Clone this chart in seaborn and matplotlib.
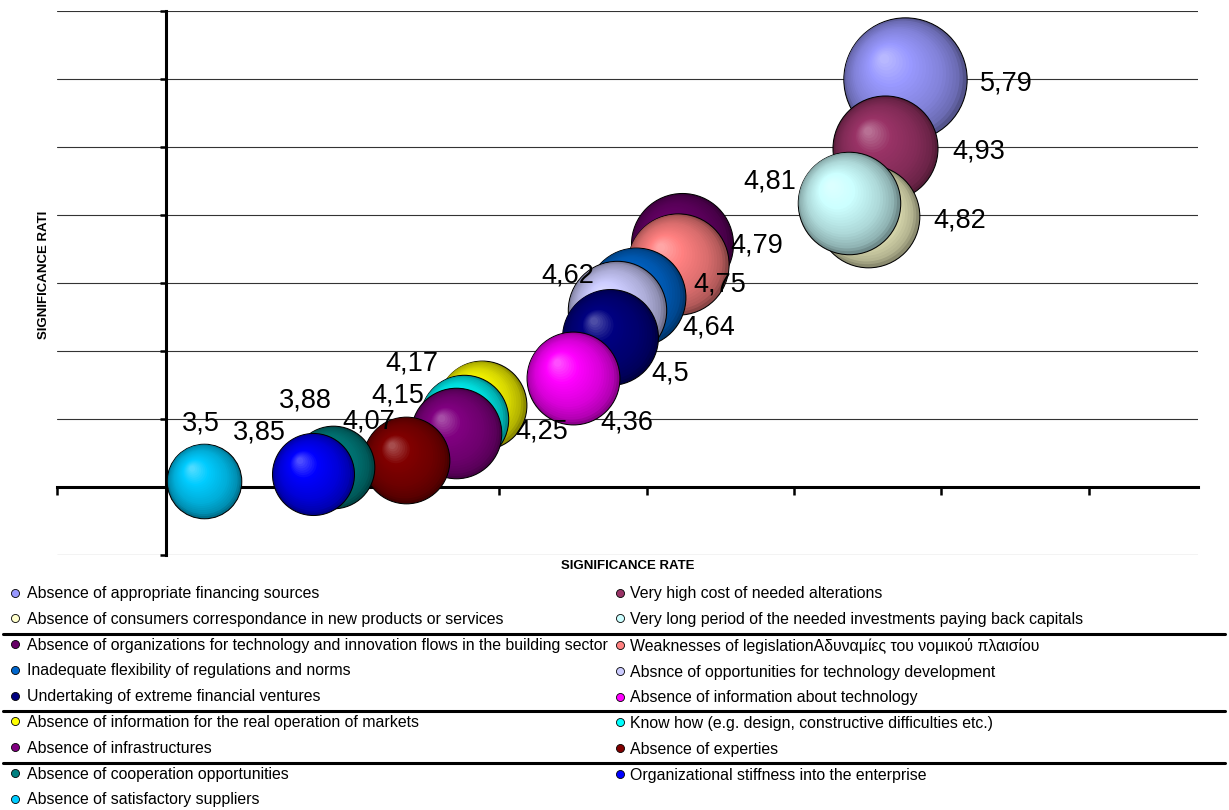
import numpy as np
import pandas as pd
import seaborn as sns
import matplotlib.pyplot as plt
from matplotlib.lines import Line2D
from matplotlib.colors import to_rgb

# Barriers and their significance rate (legend order = drawing order)
factors = [
    "Absence of appropriate financing sources",
    "Very high cost of needed alterations",
    "Absence of consumers correspondance in new products or services",
    "Very long period of the needed investments paying back capitals",
    "Absence of organizations for technology and innovation flows in the building sector",
    "Weaknesses of legislationΑδυναμίες του νομικού πλαισίου",
    "Inadequate flexibility of regulations and norms",
    "Absnce of opportunities for technology development",
    "Undertaking of extreme financial ventures",
    "Absence of information about technology",
    "Absence of information for the real operation of markets",
    "Know how (e.g. design, constructive difficulties etc.)",
    "Absence of infrastructures",
    "Absence of experties",
    "Absence of cooperation opportunities",
    "Organizational stiffness into the enterprise",
    "Absence of satisfactory suppliers",
]
rates = [5.79, 4.93, 4.82, 4.81, 4.79, 4.75, 4.64, 4.62, 4.5, 4.36,
         4.17, 4.15, 4.25, 4.07, 3.88, 3.85, 3.5]
x_vals = [5.75, 5.62, 5.5, 5.37, 4.24, 4.21, 3.93, 3.8, 3.75, 3.5,
          2.88, 2.76, 2.71, 2.37, 1.87, 1.74, 1.0]
y_vals = [6.0, 4.98, 3.99, 4.18, 3.57, 3.28, 2.8, 2.6, 2.21, 1.6,
          1.21, 1.0, 0.79, 0.4, 0.29, 0.19, 0.09]

colors = ["#9999FF", "#993366", "#FFFFCC", "#CCFFFF", "#660066", "#FF8080",
          "#0066CC", "#CCCCFF", "#000080", "#FF00FF", "#FFFF00", "#00FFFF",
          "#800080", "#800000", "#008080", "#0000FF", "#00CCFF"]

# where each value label sits relative to its bubble (pixels, right / down)
label_offsets = [(75, 11), (67, 10.5), (66, 11.7), (-105, -14), (48.7, 8.7),
                 (16, 28), (46, 37.7), (-76, -28), (42, 44), (27.5, 51.5),
                 (-96, -34), (-92, -16), (59, 5), (-64, -31), (-54, -60),
                 (-81, -35), (-22, -50)]

sns.set_style("white")
plt.rcParams["font.family"] = ["Liberation Sans", "DejaVu Sans"]
plt.rcParams["text.color"] = "black"
plt.rcParams["axes.labelcolor"] = "black"

W, H = 1229, 810
PT = 0.72            # points per pixel at 100 dpi
SX, SY = 147.4, 68   # pixels per data unit
R_UNIT = 10.65       # bubble radius (px) per unit of rate

fig = plt.figure(figsize=(W / 100, H / 100), dpi=100)
ax = fig.add_axes([57 / W, 1 - 555 / H, (1198 - 57) / W, (555 - 11) / H])

# 3D-looking bubbles: outline circle + nested lighter circles toward upper left
N = 24
t = np.linspace(0, 1, N)
f = np.interp(t, [0, 0.08, 0.3, 0.7, 1], [0.55, 0.7, 0.85, 1.0, 1.0])
g = np.interp(t, [0, 0.7, 1], [0, 0, 0.3])

for v, x, y, col in zip(rates, x_vals, y_vals, colors):
    c = np.array(to_rgb(col))
    r = R_UNIT * v
    ri = r * (1 - 0.92 * t)
    off = (r - ri) * 0.5 / np.sqrt(2)
    shades = {k: tuple(np.clip(c * f[k] + (1 - c) * g[k], 0, 1)) for k in range(N)}
    areas = {k: (2 * ri[k] * PT) ** 2 for k in range(N)}

    sns.scatterplot(x=[x], y=[y], s=areas[0], color=shades[0], edgecolor="black",
                    linewidth=0.75, zorder=3, legend=False, ax=ax)
    layers = pd.DataFrame({"x": x - off / SX, "y": y + off / SY, "layer": range(N)}).iloc[1:]
    sns.scatterplot(data=layers, x="x", y="y", hue="layer", palette=shades,
                    size="layer", sizes=areas, linewidth=0, zorder=3,
                    legend=False, ax=ax)

for v, x, y, (dx, dy) in zip(rates, x_vals, y_vals, label_offsets):
    ax.annotate(f"{v:g}".replace(".", ","), xy=(x, y), xytext=(dx * PT, -dy * PT),
                textcoords="offset points", ha="left", va="baseline",
                fontsize=19.5, color="black", zorder=5)

ax.set_xlim(0, (1198 - 57) / SX)
ax.set_ylim(-1, 7)
ax.set_xticks(range(0, 8))
ax.set_yticks(range(-1, 8))
ax.tick_params(bottom=True, left=True, labelleft=False, labelbottom=False)
ax.tick_params(axis="x", direction="out", length=6, width=1.8, color="black")
ax.tick_params(axis="y", direction="out", length=4, width=1.8, color="black")
ax.grid(axis="y", color="#333333", lw=0.8)
ax.grid(axis="x", visible=False)
gl = ax.get_ygridlines()
gl[0].set_color("#e4e4e4")
gl[-1].set_color("#c8c8c8")

for s in ["top", "right"]:
    ax.spines[s].set_visible(False)
ax.spines["left"].set_position(("data", 0.737))
ax.spines["bottom"].set_position(("data", 0))
for s in ["left", "bottom"]:
    ax.spines[s].set_linewidth(2.2)
    ax.spines[s].set_color("black")

ax.set_xlabel("SIGNIFICANCE RATE", fontsize=9.5, fontweight="bold")
ax.xaxis.set_label_coords(0.5, -0.0085)
ax.set_ylabel("SIGNIFICANCE RATI", fontsize=9.5, fontweight="bold")
ax.yaxis.set_label_coords(-0.0059, 0.5147)

# legend laid out row by row in two columns
handles = [Line2D([], [], ls="", marker="o", markersize=5.8, markerfacecolor=c,
                  markeredgecolor="black", markeredgewidth=0.6) for c in colors]
common = dict(loc="upper left", frameon=False, fontsize=11.4, handlelength=0.8,
              labelspacing=0.68, borderpad=0, borderaxespad=0, labelcolor="black")
fig.legend(handles[0::2], factors[0::2], bbox_to_anchor=(8.9 / W, 1 - 586.2 / H),
           handletextpad=0.36, **common)
fig.legend(handles[1::2], factors[1::2], bbox_to_anchor=(613.9 / W, 1 - 586.2 / H),
           handletextpad=0.2, **common)

for ypx in [634, 711, 762.5]:
    fig.add_artist(Line2D([3 / W, 1225 / W], [1 - ypx / H] * 2, color="black", lw=2.2))

fig.savefig("out.png", dpi=100)
